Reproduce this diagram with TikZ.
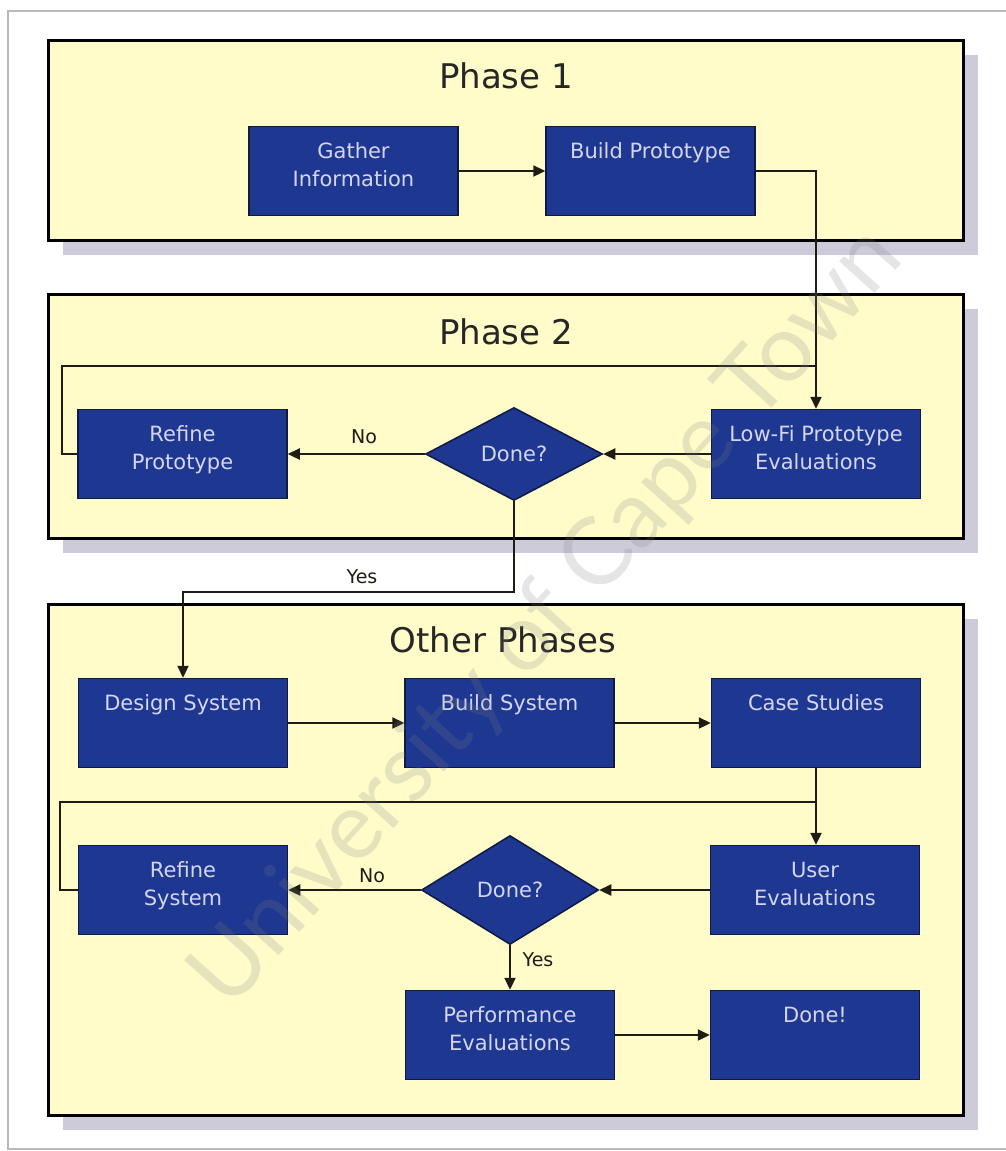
\documentclass[tikz,border=0pt]{standalone}
\usepackage{fontspec}
\setmainfont{DejaVu Sans}
\newfontfamily\wmfont{Lato}
\usetikzlibrary{shapes.geometric,arrows.meta,calc}
\definecolor{phasefill}{RGB}{255,252,202}
\definecolor{boxblue}{RGB}{30,55,145}
\definecolor{boxedge}{RGB}{15,25,70}
\definecolor{boxtext}{RGB}{212,214,240}
\definecolor{shadowc}{RGB}{205,202,218}
\definecolor{framegray}{RGB}{185,185,185}
\definecolor{linec}{RGB}{30,28,20}
\tikzset{
  phase/.style={draw=black, line width=3pt, fill=phasefill, inner sep=0pt},
  blk/.style={draw=boxedge, line width=1.5pt, fill=boxblue, minimum width=209pt, minimum height=89pt, inner sep=0pt},
  dia/.style={diamond, draw=boxedge, line width=1.5pt, fill=boxblue, minimum width=177pt, inner sep=0pt, text=boxtext, font=\fontsize{21}{26}\selectfont},
  txt/.style={text=boxtext, font=\fontsize{21}{28}\selectfont, align=center, anchor=north, inner sep=0pt},
  ttl/.style={text=black!85, font=\fontsize{34}{40}\selectfont, inner sep=0pt},
  lab/.style={text=linec, font=\fontsize{19}{22}\selectfont, inner sep=0pt},
  ln/.style={draw=linec, line width=2.3pt},
  arr/.style={ln, -{Triangle[length=12pt,width=11pt]}}
}
\begin{document}
\begin{tikzpicture}[x=1pt,y=-1pt]
\useasboundingbox (0,0) rectangle (1006,1151);
\fill[white] (0,0) rectangle (1006,1151);
% outer frame
\draw[framegray, line width=2pt] (1006,11) -- (8,11) -- (8,1149) -- (1006,1149);
% shadows
\fill[shadowc] (63,55) rectangle (978,255);
\fill[shadowc] (63,309) rectangle (978,553);
\fill[shadowc] (63,619) rectangle (978,1130);
% phase boxes
\node[phase, minimum width=915pt, minimum height=200pt] (p1) at (505.5,140) {};
\node[phase, minimum width=915pt, minimum height=244pt] (p2) at (505.5,416) {};
\node[phase, minimum width=915pt, minimum height=511pt] (p3) at (505.5,859.5) {};
\node[ttl] (t1) at (506,76) {Phase 1};
\node[ttl] (t2) at (506,332) {Phase 2};
\node[ttl] (t3) at (503,640) {Other Phases};
% phase 1
\node[blk] (gi) at (353.5,171) {};
\node[blk] (bp) at (650.5,171) {};
% phase 2
\node[blk] (rp) at (182.5,454) {};
\node[dia, minimum height=93pt] (d1) at (514,454) {Done?};
\node[blk] (lf) at (816,454) {};
% other phases
\node[blk] (ds) at (183,723) {};
\node[blk] (bs) at (509.5,723) {};
\node[blk] (cs) at (816,723) {};
\node[blk] (rs) at (183,890) {};
\node[dia, minimum height=109pt] (d2) at (510,890) {Done?};
\node[blk] (ue) at (815,890) {};
\node[blk] (pe) at (510,1035) {};
\node[blk] (dn) at (815,1035) {};
% box texts
\node[txt] (gi-t) at ($(gi.north)+(0,13)$) {\strut Gather\\Information};
\node[txt] (bp-t) at ($(bp.north)+(0,13)$) {\strut Build Prototype};
\node[txt] (rp-t) at ($(rp.north)+(0,13)$) {\strut Refine\\Prototype};
\node[txt] (lf-t) at ($(lf.north)+(0,13)$) {\strut Low-Fi Prototype\\Evaluations};
\node[txt] (ds-t) at ($(ds.north)+(0,13)$) {\strut Design System};
\node[txt] (bs-t) at ($(bs.north)+(0,13)$) {\strut Build System};
\node[txt] (cs-t) at ($(cs.north)+(0,13)$) {\strut Case Studies};
\node[txt] (rs-t) at ($(rs.north)+(0,13)$) {\strut Refine\\System};
\node[txt] (ue-t) at ($(ue.north)+(0,13)$) {\strut User\\Evaluations};
\node[txt] (pe-t) at ($(pe.north)+(0,13)$) {\strut Performance\\Evaluations};
\node[txt] (dn-t) at ($(dn.north)+(0,13)$) {\strut Done!};
% helper coordinates
\coordinate (j1) at (816,366);
\coordinate (l1) at (62,366);
\coordinate (y1) at (514,592);
\coordinate (j2) at (816,802);
\coordinate (l2) at (60,802);
% connectors phase 1/2
\draw[arr] (gi.east) -- (bp.west);
\draw[arr] (bp.east) -| (lf.north);
\draw[arr] (lf.west) -- (d1.east);
\draw[arr] (d1.west) -- (rp.east);
\draw[ln] (rp.west) -| (l1) -- (j1);
\draw[arr] (d1.south) -- (y1) -| (ds.north);
\node[lab] (no1) at (364,437) {No};
\node[lab] (yes1) at (362,577) {Yes};
% other phases connectors
\draw[arr] (ds.east) -- (bs.west);
\draw[arr] (bs.east) -- (cs.west);
\draw[arr] (cs.south) -- (cs.south |- ue.north);
\draw[arr] (ue.west) -- (d2.east);
\draw[arr] (d2.west) -- (rs.east);
\draw[ln] (rs.west) -| (l2) -- (j2);
\draw[arr] (d2.south) -- (pe.north);
\draw[arr] (pe.east) -- (dn.west);
\node[lab] (no2) at (372,876) {No};
\node[lab] (yes2) at (538,960) {Yes};
% watermark
\node[text=gray, opacity=0.2, rotate=48, font=\wmfont\fontsize{94}{96}\selectfont, inner sep=0pt] (wm) at (548,618) {University of Cape Town};
\end{tikzpicture}
\end{document}
